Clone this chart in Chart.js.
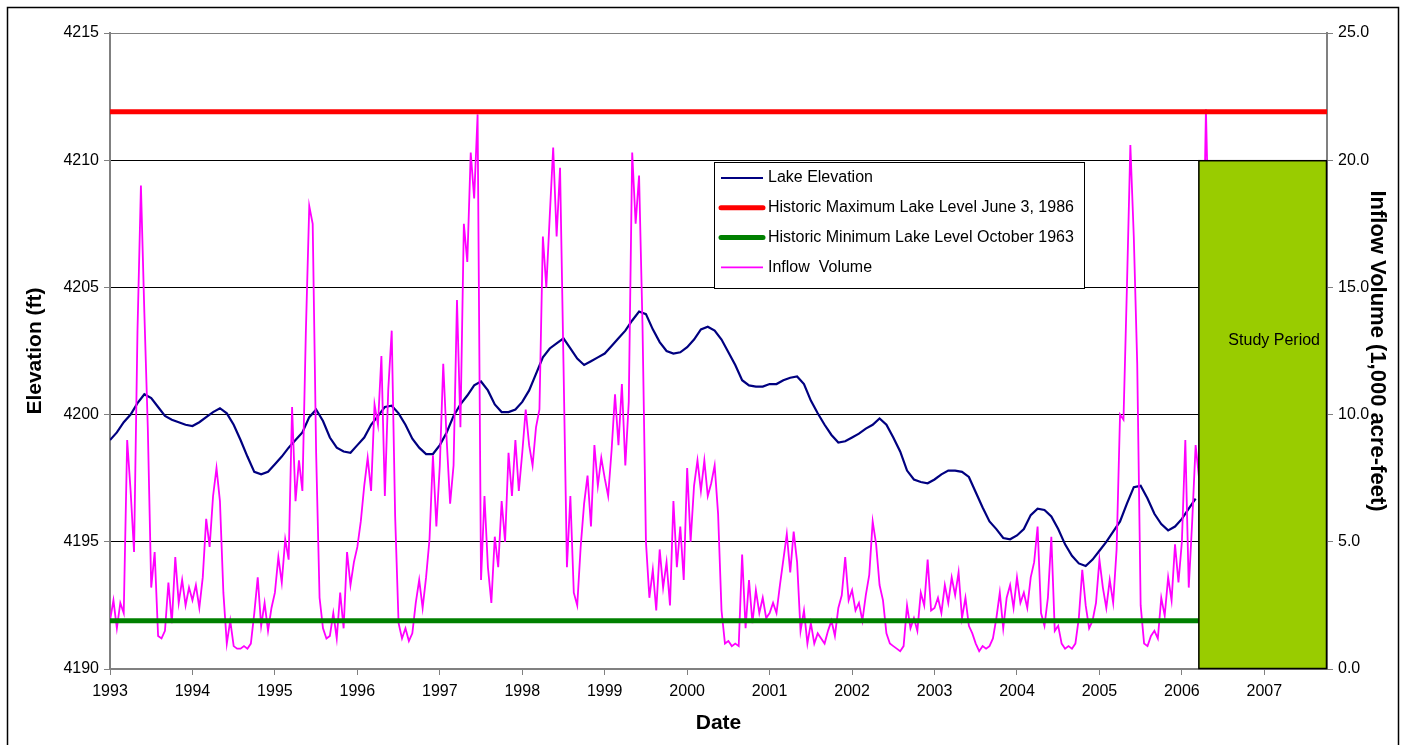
<!DOCTYPE html>
<html>
<head>
<meta charset="utf-8">
<title>Lake Elevation and Inflow Volume</title>
<script src="https://cdn.jsdelivr.net/npm/chart.js@4.4.0/dist/chart.umd.min.js"></script>
<style>
  html, body { margin: 0; padding: 0; background: #fff; }
  canvas { display: block; }
</style>
</head>
<body>
<canvas id="lakeChart" width="1403" height="745"></canvas>
<script>
// x axis runs in decimal years
const xStart = 1993;
const xEnd = 2007.76;

// lake elevation (ft), one value per month from Jan 1993
const lakePerYear = 12;
const lakeElevation = [
  4199.0, 4199.3, 4199.7, 4200.0, 4200.45, 4200.8, 4200.65, 4200.3, 4199.95, 4199.8, 4199.7, 4199.6,
  4199.55, 4199.7, 4199.9, 4200.1, 4200.25, 4200.05, 4199.6, 4199.0, 4198.35, 4197.75, 4197.65, 4197.75,
  4198.05, 4198.35, 4198.7, 4199.0, 4199.3, 4199.9, 4200.2, 4199.75, 4199.1, 4198.7, 4198.55, 4198.5,
  4198.8, 4199.1, 4199.6, 4199.95, 4200.3, 4200.35, 4200.05, 4199.6, 4199.05, 4198.7, 4198.45, 4198.45,
  4198.8, 4199.3, 4199.95, 4200.4, 4200.75, 4201.15, 4201.3, 4200.95, 4200.4, 4200.1, 4200.1, 4200.2,
  4200.5, 4200.95, 4201.6, 4202.25, 4202.6, 4202.8, 4203.0, 4202.6, 4202.2, 4201.95, 4202.1, 4202.25,
  4202.4, 4202.7, 4203.0, 4203.3, 4203.7, 4204.05, 4203.95, 4203.35, 4202.85, 4202.5, 4202.4, 4202.45,
  4202.65, 4202.95, 4203.35, 4203.45, 4203.3, 4202.95, 4202.45, 4201.95, 4201.35, 4201.15, 4201.1, 4201.1,
  4201.2, 4201.2, 4201.35, 4201.45, 4201.5, 4201.2, 4200.55, 4200.05, 4199.6, 4199.2, 4198.9, 4198.95,
  4199.1, 4199.25, 4199.45, 4199.6, 4199.85, 4199.6, 4199.1, 4198.55, 4197.8, 4197.45, 4197.35, 4197.3,
  4197.45, 4197.65, 4197.8, 4197.8, 4197.75, 4197.55, 4196.95, 4196.35, 4195.8, 4195.5, 4195.15, 4195.1,
  4195.25, 4195.5, 4196.05, 4196.3, 4196.25, 4196.0, 4195.5, 4194.9, 4194.45, 4194.15, 4194.05, 4194.3,
  4194.65, 4195.0, 4195.4, 4195.8, 4196.5, 4197.15, 4197.2, 4196.7, 4196.1, 4195.7, 4195.45, 4195.6,
  4195.9, 4196.3, 4196.7
];

// inflow volume (1,000 acre-feet), two values per month from Jan 1993
const inflowPerYear = 24;
const inflowVolume = [
  1.9, 2.7, 1.6, 2.6, 2.2, 9.0, 7.0, 4.6, 13.3, 19.0, 14.0, 9.5, 3.2, 4.6, 1.3, 1.2, 1.5, 3.4, 1.8, 4.4, 2.6, 3.5, 2.5, 3.2,
  2.7, 3.3, 2.4, 3.6, 5.9, 4.8, 6.8, 7.9, 6.6, 3.0, 1.0, 1.9, 0.9, 0.8, 0.8, 0.9, 0.8, 1.0, 2.2, 3.6, 1.7, 2.6, 1.5, 2.4,
  3.0, 4.4, 3.4, 5.1, 4.3, 10.3, 6.6, 8.2, 7.0, 13.2, 18.2, 17.5, 8.5, 2.8, 1.6, 1.2, 1.3, 2.2, 1.2, 3.0, 1.6, 4.6, 3.3, 4.2,
  4.8, 5.8, 7.2, 8.3, 7.0, 10.4, 9.6, 12.3, 6.8, 11.0, 13.3, 6.0, 1.8, 1.2, 1.6, 1.1, 1.4, 2.6, 3.5, 2.4, 3.6, 5.1, 8.4, 5.6,
  8.0, 12.0, 9.0, 6.5, 8.0, 14.5, 9.5, 17.5, 16.0, 20.3, 18.5, 21.8, 3.5, 6.8, 4.0, 2.6, 5.2, 4.0, 6.6, 5.0, 8.5, 6.8, 9.0, 7.0,
  8.5, 10.2, 8.8, 8.0, 9.5, 10.2, 17.0, 15.0, 17.8, 20.5, 17.0, 19.7, 12.0, 4.0, 6.8, 3.0, 2.5, 4.8, 6.5, 7.6, 5.6, 8.8, 7.2, 8.3,
  7.5, 6.8, 8.6, 10.8, 8.8, 11.2, 8.0, 10.5, 20.3, 17.5, 19.4, 13.5, 5.0, 2.8, 3.9, 2.3, 4.7, 3.2, 4.2, 2.5, 6.6, 4.0, 5.6, 3.5,
  7.9, 5.0, 7.2, 8.2, 7.0, 8.2, 6.8, 7.3, 8.0, 6.1, 2.3, 1.0, 1.1, 0.9, 1.0, 0.9, 4.5, 1.6, 3.5, 1.8, 3.1, 2.2, 2.8, 2.0,
  2.2, 2.6, 2.2, 3.3, 4.3, 5.3, 3.8, 5.4, 4.2, 1.5, 2.3, 1.0, 1.8, 1.0, 1.4, 1.2, 1.0, 1.5, 1.9, 1.3, 2.4, 2.9, 4.4, 2.7,
  3.1, 2.3, 2.6, 1.9, 2.9, 3.7, 5.8, 4.9, 3.3, 2.7, 1.4, 1.0, 0.9, 0.8, 0.7, 0.9, 2.5, 1.6, 2.0, 1.5, 3.0, 2.5, 4.3, 2.3,
  2.4, 2.8, 2.2, 3.3, 2.6, 3.6, 2.9, 3.8, 2.0, 2.8, 1.7, 1.4, 1.0, 0.7, 0.9, 0.8, 0.9, 1.2, 2.0, 3.0, 1.6, 2.8, 3.3, 2.4,
  3.6, 2.6, 3.0, 2.4, 3.6, 4.2, 5.6, 2.2, 1.7, 2.8, 5.2, 1.5, 1.7, 1.0, 0.8, 0.9, 0.8, 1.0, 2.0, 3.9, 2.5, 1.6, 1.9, 2.6,
  4.3, 3.2, 2.4, 3.5, 2.6, 4.7, 10.0, 9.8, 15.0, 20.6, 17.0, 12.0, 2.5, 1.0, 0.9, 1.3, 1.5, 1.2, 2.8, 2.1, 3.6, 2.7, 4.9, 3.4,
  5.0, 9.0, 3.2, 5.8, 8.8, 7.5, 14.0, 22.0, 16.0
];

// reference levels (ft) and the study period (years, top in 1,000 acre-feet)
const historicMax = 4211.9;
const historicMin = 4191.9;
const studyPeriod = [2006.2, 2007.76];
const studyTop = 20;

const lakePoints = lakeElevation.map((v, i) => ({ x: xStart + i / lakePerYear, y: v }));
const inflowPoints = inflowVolume.map((v, i) => ({ x: xStart + i / inflowPerYear, y: v }));

const FONT = '"Liberation Sans", Arial, sans-serif';
Chart.defaults.font.family = FONT;
Chart.defaults.color = '#000';

// white page, outer frame and the green study period box
const framePlugin = {
  id: 'frame',
  beforeDraw(chart) {
    const c = chart.ctx;
    c.save();
    c.fillStyle = '#fff';
    c.fillRect(0, 0, chart.width, chart.height);
    c.restore();
  },
  afterDatasetsDraw(chart) {
    const c = chart.ctx;
    const xs = chart.scales.x, ys = chart.scales.y1;
    const x1 = xs.getPixelForValue(studyPeriod[0]);
    const x2 = xs.getPixelForValue(studyPeriod[1]);
    const yT = ys.getPixelForValue(studyTop);
    const yB = ys.getPixelForValue(0);
    c.save();
    c.fillStyle = '#99cc00';
    c.fillRect(x1, yT, x2 - x1, yB - yT);
    c.strokeStyle = '#000';
    c.lineWidth = 1.5;
    c.strokeRect(x1 + 0.5, yT + 0.5, x2 - x1 - 1, yB - yT - 1);
    c.fillStyle = '#000';
    c.font = '16px ' + FONT;
    c.textAlign = 'left';
    c.textBaseline = 'middle';
    c.fillText('Study Period', x1 + 30, ys.getPixelForValue(12.9));
    c.restore();
  },
  afterDraw(chart) {
    const c = chart.ctx;
    c.save();
    c.strokeStyle = '#000';
    c.lineWidth = 1.5;
    c.strokeRect(7.5, 7.5, chart.width - 12, chart.height + 10);
    c.restore();
  }
};

// legend box inside the plot
const legendOrder = [3, 0, 1, 2];
const legendPlugin = {
  id: 'boxLegend',
  afterDraw(chart) {
    const c = chart.ctx;
    const left = 714, top = 162, w = 370, h = 126;
    c.save();
    c.fillStyle = '#fff';
    c.fillRect(left, top, w, h);
    c.strokeStyle = '#000';
    c.lineWidth = 1;
    c.strokeRect(left + 0.5, top + 0.5, w, h);
    c.font = '16px ' + FONT;
    c.textBaseline = 'middle';
    legendOrder.forEach((idx, row) => {
      const ds = chart.data.datasets[idx];
      const y = top + 16 + row * 29.8;
      c.strokeStyle = ds.borderColor;
      c.lineWidth = ds.borderWidth;
      c.lineCap = ds.borderWidth > 3 ? 'round' : 'butt';
      c.beginPath();
      c.moveTo(left + 7, y);
      c.lineTo(left + 49, y);
      c.stroke();
      c.fillStyle = '#000';
      c.fillText(ds.label, left + 54, y);
    });
    c.restore();
  }
};

const tickFont = { size: 16, family: FONT };
const titleFont = { size: 21, weight: 'bold', family: FONT };

new Chart(document.getElementById('lakeChart').getContext('2d'), {
  type: 'line',
  data: {
    datasets: [
      {
        label: 'Historic Maximum Lake Level June 3, 1986',
        data: [{ x: xStart, y: historicMax }, { x: xEnd, y: historicMax }],
        borderColor: '#ff0000', borderWidth: 5, yAxisID: 'y', order: 0
      },
      {
        label: 'Historic Minimum Lake Level October 1963',
        data: [{ x: xStart, y: historicMin }, { x: xEnd, y: historicMin }],
        borderColor: '#008000', borderWidth: 5, yAxisID: 'y', order: 0
      },
      {
        label: 'Inflow  Volume',
        data: inflowPoints,
        borderColor: '#ff00ff', borderWidth: 1.8, yAxisID: 'y1', order: 1
      },
      {
        label: 'Lake Elevation',
        data: lakePoints,
        borderColor: '#000080', borderWidth: 2.2, yAxisID: 'y', order: 2
      }
    ]
  },
  options: {
    responsive: false,
    animation: false,
    elements: { point: { radius: 0 }, line: { tension: 0, fill: false } },
    layout: { padding: { top: 33, left: 0, right: 0, bottom: 0 } },
    plugins: { legend: { display: false }, tooltip: { enabled: false } },
    scales: {
      x: {
        type: 'linear', min: xStart, max: xEnd,
        ticks: { stepSize: 1, includeBounds: false, autoSkip: false, maxRotation: 0,
                 padding: 7, font: tickFont, color: '#000', callback: v => String(v) },
        grid: { drawOnChartArea: false, tickLength: 6, tickColor: '#808080' },
        border: { color: '#808080', width: 2 },
        title: { display: true, text: 'Date', font: titleFont, color: '#000', padding: { bottom: 9 } },
        afterFit: s => { s.height = 76; }
      },
      y: {
        position: 'left', min: 4190, max: 4215,
        ticks: { stepSize: 5, padding: 5, font: tickFont, color: '#000', callback: v => String(v) },
        grid: { color: c => (c.tick && c.tick.value === 4215 ? '#808080' : '#000'),
                tickColor: '#808080', tickLength: 6 },
        border: { color: '#808080', width: 2 },
        title: { display: true, text: 'Elevation (ft)', font: titleFont, color: '#000', padding: { top: 23 } },
        afterFit: s => { s.width = 110; }
      },
      y1: {
        position: 'right', min: 0, max: 25,
        ticks: { stepSize: 5, padding: 5, font: tickFont, color: '#000', callback: v => v.toFixed(1) },
        grid: { drawOnChartArea: false, tickColor: '#808080', tickLength: 6 },
        border: { color: '#808080', width: 2 },
        title: { display: true, text: 'Inflow Volume (1,000 acre-feet)',
                 font: { size: 22, weight: 'bold', family: FONT }, color: '#000', padding: { top: 13 } },
        afterFit: s => { s.width = 76; }
      }
    }
  },
  plugins: [framePlugin, legendPlugin]
});
</script>
</body>
</html>
